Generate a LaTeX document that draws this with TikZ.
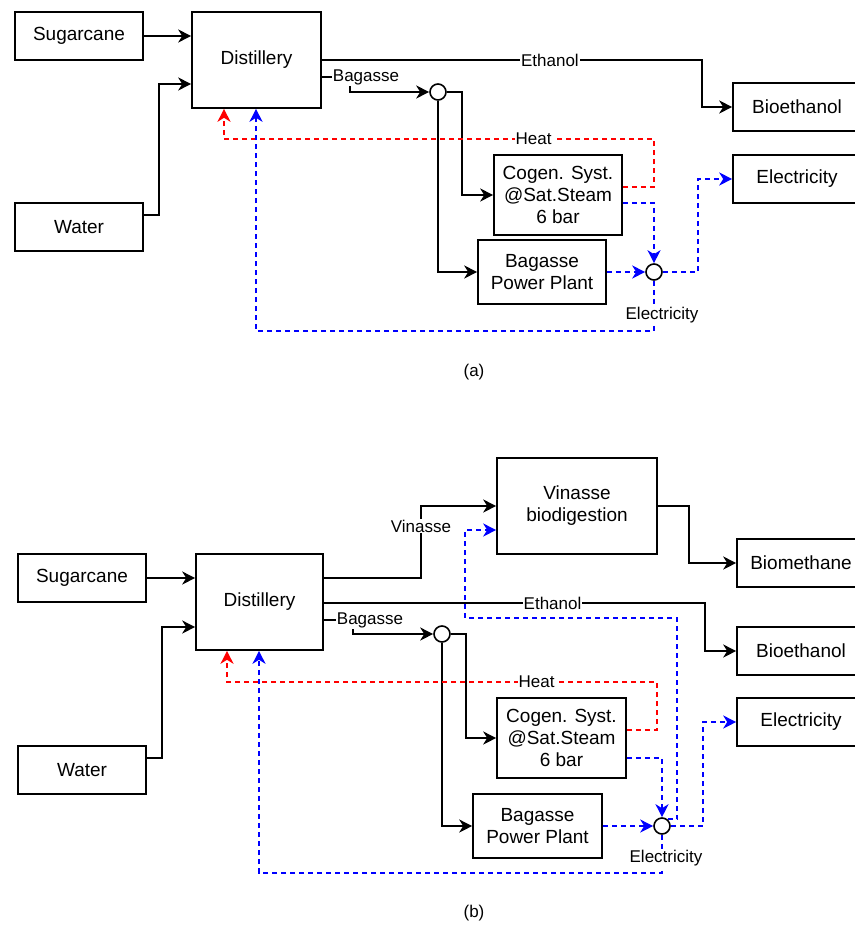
\documentclass[tikz,border=0pt]{standalone}
\usepackage{fontspec}
\setmainfont{Liberation Sans}
\usetikzlibrary{arrows.meta,calc}
\begin{document}
\begin{tikzpicture}[x=1pt,y=-1pt,
  box/.style={draw, line width=1.6pt, inner sep=0pt, align=center, font=\fontsize{19}{22}\selectfont},
  junc/.style={circle, draw, line width=1.6pt, fill=white, minimum size=16pt, inner sep=0pt},
  lbl/.style={fill=white, text=black, inner sep=1pt, font=\fontsize{17}{20}\selectfont},
  flow/.style={line width=1.6pt, -{Stealth[length=13pt,width=13pt,inset=4pt]}},
  heatflow/.style={flow, red, dash pattern=on 5pt off 4pt},
  elecflow/.style={flow, blue, dash pattern=on 5pt off 4pt},
]
\useasboundingbox (0,0) rectangle (854,928);

% ================= (a) =================
\node[box,minimum width=128pt,minimum height=48pt] (suga) at (79,36) {Sugarcane};
\node[box,minimum width=129pt,minimum height=96pt] (dista) at (256.5,60) {Distillery};
\node[box,minimum width=128pt,minimum height=48pt] (watera) at (79,227) {Water};
\node[box,minimum width=128pt,minimum height=48pt] (bioetha) at (797,107) {Bioethanol};
\node[box,minimum width=128pt,minimum height=48pt] (eleca) at (797,179) {Electricity};
\node[box,minimum width=128pt,minimum height=80pt] (cogena) at (558,195) {Cogen. Syst.\\@Sat.Steam\\6 bar};
\node[box,minimum width=128pt,minimum height=64pt] (bppa) at (542,272) {Bagasse\\Power Plant};
\node[junc] (c1a) at (438,92) {};
\node[junc] (c2a) at (654,272) {};

\coordinate (wa1) at (159,215);
\coordinate (wa2) at (159,84);
\coordinate (eta) at (702,60);
\coordinate (bga) at (350,77);
\coordinate (cga) at (462,92);
\coordinate (ha1) at (654,187);
\coordinate (ha2) at (654,139);
\coordinate (ha3) at (224,139);
\coordinate (ea1) at (654,203);
\coordinate (ea2) at (698,272);
\coordinate (ea3) at (654,331);
\coordinate (ea4) at (256,331);

\draw[flow] (suga.east) -- (suga.east -| dista.west);
\draw[flow] (watera.east |- wa1) -- (wa1) -- (wa2) -- (wa2 -| dista.west);
\draw[flow] (dista.east |- eta) -- node[lbl,pos=0.6]{Ethanol} (eta) |- (bioetha.west);
\draw[flow] (dista.east |- bga) -- (bga) -- (bga |- c1a) -- (c1a.west);
\node[lbl] (bglbla) at (366,77) {Bagasse};
\draw[flow] (c1a.east) -- (cga) |- (cogena.west);
\draw[flow] (c1a.south) |- (bppa.west);
\draw[heatflow] (cogena.east |- ha1) -- (ha1) -- (ha2) -- node[lbl,pos=0.28]{Heat} (ha3) -- (ha3 |- dista.south);
\draw[elecflow] (cogena.east |- ea1) -- (ea1) -- (c2a.north);
\draw[elecflow] (bppa.east) -- (c2a.west);
\draw[elecflow] (c2a.east) -- (ea2) |- (eleca.west);
\draw[elecflow] (c2a.south) -- (ea3) -- (ea4) -- (ea4 |- dista.south);
\node[lbl] (ellbla) at (662,315) {Electricity};
\node[font=\fontsize{17}{20}\selectfont] (capa) at (474,372) {(a)};

% ================= (b) =================
\node[box,minimum width=128pt,minimum height=48pt] (sugb) at (82,578) {Sugarcane};
\node[box,minimum width=127pt,minimum height=96pt] (distb) at (259.5,602) {Distillery};
\node[box,minimum width=128pt,minimum height=48pt] (waterb) at (82,770) {Water};
\node[box,minimum width=160pt,minimum height=96pt] (vinb) at (577,506) {Vinasse\\biodigestion};
\node[box,minimum width=128pt,minimum height=48pt] (biometh) at (801,563) {Biomethane};
\node[box,minimum width=128pt,minimum height=48pt] (bioethb) at (801,651) {Bioethanol};
\node[box,minimum width=128pt,minimum height=48pt] (elecb) at (801,722) {Electricity};
\node[box,minimum width=129pt,minimum height=80pt] (cogenb) at (561.5,738) {Cogen. Syst.\\@Sat.Steam\\6 bar};
\node[box,minimum width=129pt,minimum height=64pt] (bppb) at (537.5,826) {Bagasse\\Power Plant};
\node[junc] (c1b) at (442,634) {};
\node[junc] (c2b) at (662,826) {};

\coordinate (wb1) at (162,758);
\coordinate (wb2) at (162,627);
\coordinate (vn1) at (421,578);
\coordinate (vn2) at (421,506);
\coordinate (bm1) at (689,506);
\coordinate (etb) at (705,603);
\coordinate (bgb) at (353,620);
\coordinate (cgb) at (466,634);
\coordinate (hb1) at (657,730);
\coordinate (hb2) at (657,682);
\coordinate (hb3) at (227,682);
\coordinate (eb1) at (662,758);
\coordinate (eb2) at (703,826);
\coordinate (eb3) at (662,873);
\coordinate (eb4) at (259,873);
\coordinate (vb1) at (677,618);
\coordinate (vb2) at (465,618);
\coordinate (vb3) at (465,530);

\draw[flow] (sugb.east) -- (sugb.east -| distb.west);
\draw[flow] (waterb.east |- wb1) -- (wb1) -- (wb2) -- (wb2 -| distb.west);
\draw[flow] (distb.east |- vn1) -- (vn1) -- (vn2) -- (vn2 -| vinb.west);
\node[lbl] (vnlbl) at (421,526) {Vinasse};
\draw[flow] (vinb.east |- bm1) -- (bm1) |- (biometh.west);
\draw[flow] (distb.east |- etb) -- node[lbl,pos=0.6]{Ethanol} (etb) |- (bioethb.west);
\draw[flow] (distb.east |- bgb) -- (bgb) -- (bgb |- c1b) -- (c1b.west);
\node[lbl] (bglblb) at (370,620) {Bagasse};
\draw[flow] (c1b.east) -- (cgb) |- (cogenb.west);
\draw[flow] (c1b.south) |- (bppb.west);
\draw[heatflow] (cogenb.east |- hb1) -- (hb1) -- (hb2) -- node[lbl,pos=0.28]{Heat} (hb3) -- (hb3 |- distb.south);
\draw[elecflow] (cogenb.east |- eb1) -- (eb1) -- (c2b.north);
\draw[elecflow] (bppb.east) -- (c2b.west);
\draw[elecflow] (c2b.east) -- (eb2) |- (elecb.west);
\draw[elecflow] (c2b.south) -- (eb3) -- (eb4) -- (eb4 |- distb.south);
\draw[elecflow] (c2b.50) -- (c2b.50 -| vb1) -- (vb1) -- (vb2) -- (vb3) -- (vb3 -| vinb.west);
\node[lbl] (ellblb) at (666,858) {Electricity};
\node[font=\fontsize{17}{20}\selectfont] (capb) at (474,913) {(b)};
\end{tikzpicture}
\end{document}
